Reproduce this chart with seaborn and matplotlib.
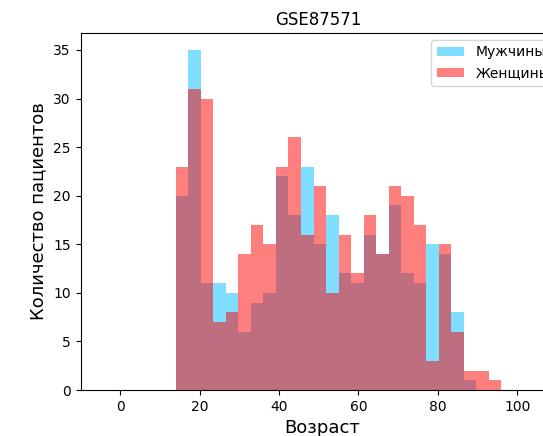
import numpy as np
import pandas as pd
import matplotlib
matplotlib.use("Agg")
import matplotlib.pyplot as plt
import seaborn as sns

# Data
age_min, age_max, n_bins = 14, 96, 26
men_counts = [20, 35, 11, 11, 10, 6, 9, 10, 22, 18, 23, 15, 18, 12, 11, 16, 14, 19, 12, 11, 15, 14, 8, 1, 0, 0]
women_counts = [23, 31, 30, 7, 8, 14, 17, 15, 23, 26, 16, 21, 10, 16, 12, 18, 14, 21, 20, 17, 3, 15, 6, 2, 2, 1]
labels = ["Мужчины", "Женщины"]
title = "GSE87571"
xlabel = "Возраст"
ylabel = "Количество пациентов"
xticks = [0, 20, 40, 60, 80, 100]

edges = np.linspace(age_min, age_max, n_bins + 1)
centers = (edges[:-1] + edges[1:]) / 2
df = pd.DataFrame({"age": centers, "men": men_counts, "women": women_counts})

plt.rcParams["savefig.bbox"] = None
fig = plt.figure(figsize=(5.43, 4.36), dpi=100)
ax = fig.add_axes([0.1484, 0.1055, 0.888, 0.819])

sns.histplot(data=df, x="age", weights="men", bins=n_bins, binrange=(age_min, age_max),
             color="deepskyblue", alpha=0.5, linewidth=0, label=labels[0], ax=ax)
sns.histplot(data=df, x="age", weights="women", bins=n_bins, binrange=(age_min, age_max),
             color="red", alpha=0.5, linewidth=0, label=labels[1], ax=ax)

ax.set_xlim(-10, 111.5)
ax.set_ylim(0, 36.75)
ax.set_xticks(xticks)
ax.spines["right"].set_visible(False)
ax.set_title(title, fontsize=12, x=0.492)
ax.set_xlabel(xlabel, fontsize=13)
ax.set_ylabel(ylabel, fontsize=13)
ax.legend(loc="upper right")

fig.savefig("out.png", dpi=100, bbox_inches=None, pad_inches=0)
